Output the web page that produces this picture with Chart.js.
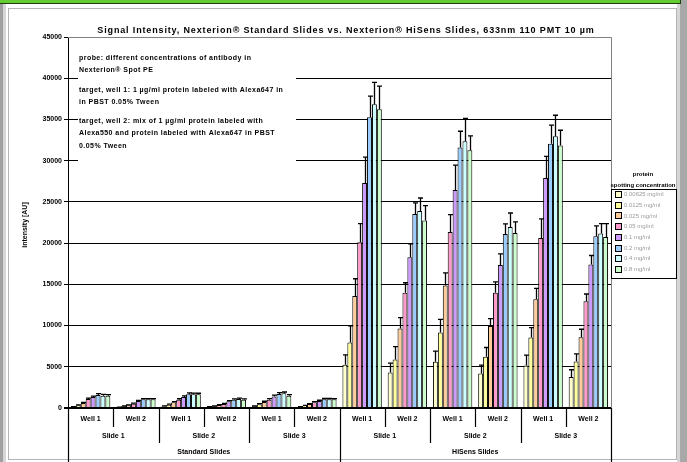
<!DOCTYPE html>
<html><head><meta charset="utf-8">
<script src="https://cdn.jsdelivr.net/npm/chart.js@4/dist/chart.umd.min.js"></script>
<style>html,body{margin:0;padding:0;background:#fff;}#wrap{width:687px;height:462px;}</style>
</head><body><div id="wrap"><canvas id="c" width="687" height="462"></canvas></div>
<script>
// ---- data ----
const wells = ["Well 1","Well 2","Well 1","Well 2","Well 1","Well 2","Well 1","Well 2","Well 1","Well 2","Well 1","Well 2"];
const slides = ["Slide 1","Slide 2","Slide 3","Slide 1","Slide 2","Slide 3"];
const slideTypes = ["Standard Slides","HiSens Slides"];
const concentrations = ["0.00625 mg/ml","0.0125 mg/ml","0.025 mg/ml","0.05 mg/ml","0.1 mg/ml","0.2 mg/ml","0.4 mg/ml","0.8 mg/ml"];
const colors = ["#FFFFCC","#FFFF99","#FFCC99","#FF99CC","#CC99FF","#99CCFF","#CCFFFF","#CCFFCC"];

const conc00625 = [120, 80, 200, 120, 200, 120, 5240, 4310, 5600, 4190, 5160, 3750];
const conc0125  = [320, 200, 400, 200, 440, 280, 7940, 5880, 9150, 6210, 8540, 5640];
const conc025   = [600, 320, 690, 360, 730, 480, 13580, 9630, 14870, 9950, 13180, 8580];
const conc05    = [1090, 520, 1010, 480, 1010, 690, 20110, 13980, 21360, 13980, 20630, 12940];
const conc1     = [1330, 850, 1330, 810, 1410, 850, 27280, 18300, 26440, 17330, 27890, 17410];
const conc2     = [1580, 1050, 1660, 1010, 1700, 1050, 35260, 23540, 31600, 21120, 32040, 20840];
const conc4     = [1500, 1050, 1660, 1090, 1780, 1050, 36830, 23900, 32360, 21960, 32970, 21160];
const conc8     = [1500, 1050, 1660, 1010, 1500, 1050, 36230, 22730, 31270, 21240, 31840, 20750];

const err00625 = [40, 30, 50, 30, 40, 30, 1210, 1130, 1290, 1010, 1250, 890];
const err0125  = [60, 40, 70, 40, 80, 50, 2015, 1570, 1610, 1130, 1210, 930];
const err025   = [80, 50, 90, 60, 90, 60, 2100, 1330, 1530, 890, 1330, 970];
const err05    = [100, 60, 110, 70, 120, 80, 2260, 1210, 2100, 1330, 2300, 890];
const err1     = [120, 80, 130, 90, 140, 90, 3140, 1610, 3020, 1370, 2620, 1090];
const err2     = [160, 90, 170, 100, 170, 100, 2580, 1330, 1970, 1210, 2260, 1250];
const err4     = [150, 90, 150, 100, 160, 100, 2660, 1570, 2780, 1690, 2540, 1210];
const err8     = [120, 80, 130, 90, 130, 90, 2820, 1810, 1730, 1330, 1850, 1610];

const yTicks = [0, 5000, 10000, 15000, 20000, 25000, 30000, 35000, 40000, 45000];

const titleText = "Signal Intensity, Nexterion\u00AE Standard Slides vs. Nexterion\u00AE HiSens Slides, 633nm 110 PMT 10 \u00B5m";
const yTitle = "intensity [AU]";
const noteLines = [
  ["probe: different concentrations of antibody in", "Nexterion\u00AE Spot PE"],
  ["target, well 1: 1 \u00B5g/ml protein labeled with Alexa647 in", "in PBST 0.05% Tween"],
  ["target, well 2: mix of 1 \u00B5g/ml protein labeled with", "Alexa550 and protein labeled with Alexa647 in PBST", "0.05% Tween"]
];
const legendTitle = ["protein", "spotting concentration"];

const seriesValues = [conc00625, conc0125, conc025, conc05, conc1, conc2, conc4, conc8];
const seriesErrors = [err00625, err0125, err025, err05, err1, err2, err4, err8];

const FONT = "'Liberation Sans', Arial, sans-serif";

const deco = {
  id: 'deco',
  beforeDraw(chart) {
    const c = chart.ctx, W = chart.width, H = chart.height;
    c.save();
    c.fillStyle = '#fff'; c.fillRect(0, 0, W, H);
    c.fillStyle = '#a0a0a0'; c.fillRect(0, 0, 3, H);
    c.fillStyle = '#d6d6d6'; c.fillRect(3, 3, 3, H);
    c.fillStyle = '#a8a8a8'; c.fillRect(680, 0, 7, H);
    c.fillStyle = '#d6d6d6'; c.fillRect(677, 3, 3, H);
    c.fillStyle = '#66cc33'; c.fillRect(0, 0, 681, 3);
    c.fillStyle = '#1f3d0f'; c.fillRect(0, 3, 681, 1); c.fillRect(680, 0, 1, 4);
    c.strokeStyle = '#b4b4b4'; c.lineWidth = 1;
    c.strokeRect(8.5, 8.5, 668, 451);
    c.restore();
  },
  afterDatasetsDraw(chart) {
    const c = chart.ctx, ys = chart.scales.y;
    c.save();
    c.strokeStyle = '#000'; c.lineWidth = 1.3;
    seriesValues.forEach((vals, i) => {
      const meta = chart.getDatasetMeta(i);
      meta.data.forEach((bar, j) => {
        const x = Math.round(bar.x) + 0.5;
        const y0 = bar.y;
        const y1 = ys.getPixelForValue(vals[j] + seriesErrors[i][j]);
        c.beginPath(); c.moveTo(x, y0); c.lineTo(x, y1);
        c.moveTo(x - 2.5, y1); c.lineTo(x + 2.5, y1); c.stroke();
      });
    });
    c.restore();
  },
  afterDraw(chart) {
    const c = chart.ctx, a = chart.chartArea, xs = chart.scales.x;
    c.save();
    // plot border (top & right)
    c.strokeStyle = '#808080'; c.lineWidth = 1;
    c.beginPath(); c.moveTo(a.left, a.top + 0.5); c.lineTo(a.right + 0.5, a.top + 0.5); c.lineTo(a.right + 0.5, a.bottom); c.stroke();
    // annotation box
    c.fillStyle = '#fff'; c.fillRect(78, 44, 218, 124);
    c.fillStyle = '#000'; c.font = "bold 7px " + FONT; c.textBaseline = 'middle'; c.textAlign = 'left';
    c.letterSpacing = '0.45px';
    const noteY = [[58, 70], [90, 102], [121, 133, 146]];
    noteLines.forEach((blk, b) => blk.forEach((ln, k) => c.fillText(ln, 79, noteY[b][k])));
    c.letterSpacing = '0px';
    // title
    c.font = "bold 9px " + FONT; c.textAlign = 'center';
    const w = c.measureText(titleText).width;
    c.letterSpacing = ((497 - w) / titleText.length).toFixed(2) + 'px';
    c.fillText(titleText, 346, 31);
    c.letterSpacing = '0px';
    // y title
    c.save(); c.translate(25, 225); c.rotate(-Math.PI / 2);
    c.font = "bold 7px " + FONT; c.fillText(yTitle, 0, 0); c.restore();
    // category axis
    const step = (xs.getPixelForValue(1) - xs.getPixelForValue(0));
    const edge = i => xs.getPixelForValue(0) - step / 2 + i * step;
    c.strokeStyle = '#000'; c.lineWidth = 1.2;
    for (let i = 0; i <= wells.length; i++) {
      const x = Math.round(edge(i)) + 0.5;
      let yEnd = 427;
      if (i % 2 === 0) yEnd = 443;
      if (i % 6 === 0) yEnd = 462;
      c.beginPath(); c.moveTo(x, a.bottom); c.lineTo(x, yEnd); c.stroke();
    }
    c.font = "bold 7px " + FONT; c.textAlign = 'center';
    wells.forEach((l, i) => c.fillText(l, (edge(i) + edge(i + 1)) / 2, 419));
    slides.forEach((l, i) => c.fillText(l, (edge(2 * i) + edge(2 * i + 2)) / 2, 436));
    slideTypes.forEach((l, i) => c.fillText(l, (edge(6 * i) + edge(6 * i + 6)) / 2, 452));
    // legend
    c.font = "bold 6px " + FONT; c.fillStyle = '#000';
    c.fillText(legendTitle[0], 643, 174);
    c.fillText(legendTitle[1], 643, 185);
    c.strokeStyle = '#000'; c.lineWidth = 1;
    c.strokeRect(611.5, 189.5, 65, 89);
    c.textAlign = 'left'; c.font = "6px " + FONT;
    concentrations.forEach((l, i) => {
      const y = 194 + i * 10.7;
      c.fillStyle = colors[i]; c.fillRect(616, Math.round(y) - 2, 5, 5);
      c.strokeRect(615.5, Math.round(y) - 2.5, 6, 6);
      c.fillStyle = '#9a9a9a'; c.fillText(l, 624, y + 0.5);
    });
    c.restore();
  }
};

new Chart(document.getElementById('c'), {
  type: 'bar',
  data: {
    labels: wells,
    datasets: seriesValues.map((v, i) => ({
      label: concentrations[i], data: v, backgroundColor: colors[i],
      borderColor: '#000', borderWidth: 1, borderSkipped: 'bottom'
    }))
  },
  options: {
    responsive: false, animation: false, devicePixelRatio: 1,
    layout: { padding: { left: 8, top: 37, right: 76, bottom: 54 } },
    datasets: { bar: { categoryPercentage: 0.87, barPercentage: 1.0 } },
    plugins: { legend: { display: false }, title: { display: false }, tooltip: { enabled: false } },
    scales: {
      x: { display: false, offset: true, grid: { display: false } },
      y: {
        min: 0, max: 45000,
        afterBuildTicks(s) { s.ticks = yTicks.map(v => ({ value: v })); },
        afterFit(s) { s.width = 60; },
        ticks: { color: '#000', padding: 2, font: { family: FONT, size: 7, weight: 'bold' }, callback: v => String(v) },
        grid: {
          color: ctx => (ctx.tick && ctx.tick.value === 45000) ? '#808080' : '#000',
          lineWidth: ctx => (ctx.tick && ctx.tick.value === 0) ? 2 : 1,
          tickLength: 4, tickColor: '#000'
        },
        border: { color: '#000', width: 1 }
      }
    }
  },
  plugins: [deco]
});
</script>
</body></html>
